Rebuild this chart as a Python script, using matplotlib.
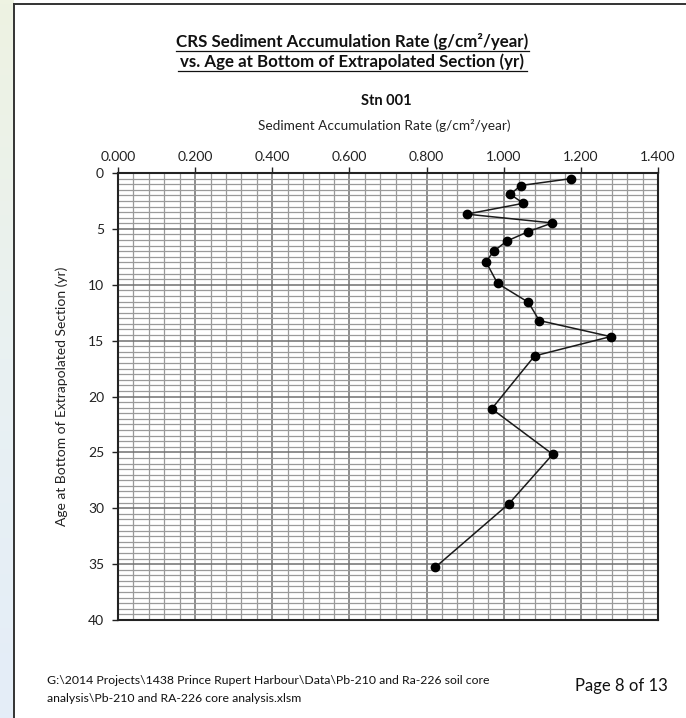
import matplotlib

matplotlib.use("Agg")
import matplotlib.pyplot as plt
import numpy as np
from matplotlib.colors import LinearSegmentedColormap
from matplotlib.lines import Line2D
from matplotlib.ticker import FormatStrFormatter, MultipleLocator

plt.rcParams["font.family"] = ["Lato", "DejaVu Sans"]

# Stn 001 CRS results
rate = [1.175, 1.044, 1.017, 1.051, 0.904, 1.126, 1.064, 1.008, 0.974, 0.954,
        0.984, 1.064, 1.092, 1.277, 1.080, 0.969, 1.127, 1.014, 0.823]
age = [0.50, 1.12, 1.91, 2.71, 3.68, 4.47, 5.24, 6.09, 7.00, 7.95,
       9.88, 11.57, 13.20, 14.64, 16.37, 21.10, 25.17, 29.58, 35.27]

x_ticks = [0.0, 0.2, 0.4, 0.6, 0.8, 1.0, 1.2, 1.4]
y_ticks = [0, 5, 10, 15, 20, 25, 30, 35, 40]

W, H = 686, 718
fig = plt.figure(figsize=(W / 100, H / 100), dpi=100)
fig.patch.set_facecolor("white")


def fx(px):
    return px / W


def fy(py):
    return 1 - py / H


# page edge: pale gradient strip on the left, dark border line
strip = fig.add_axes([0, 0, fx(14), 1])
cmap = LinearSegmentedColormap.from_list("edge", ["#eef3e2", "#e9f1f2", "#e4edf8"])
strip.imshow(np.linspace(0, 1, 200).reshape(-1, 1), aspect="auto", cmap=cmap,
             extent=[0, 1, 0, 1], origin="upper")
strip.axis("off")
top = fig.add_axes([fx(14), fy(4), 1 - fx(14), 4 / H])
top.set_facecolor("#f2f6ee")
top.axis("off")
fig.add_artist(Line2D([fx(14.5), fx(14.5)], [0, fy(4)], color="#333333", lw=1.4))
fig.add_artist(Line2D([fx(14.5), 1], [fy(4), fy(4)], color="#333333", lw=1.4))

ax = fig.add_axes([fx(118), fy(620), fx(658 - 118), (620 - 173) / H])
ax.set_xlim(x_ticks[0], x_ticks[-1])
ax.set_ylim(y_ticks[-1], y_ticks[0])
ax.set_xticks(x_ticks)
ax.set_yticks(y_ticks)
ax.xaxis.set_minor_locator(MultipleLocator(0.04))
ax.yaxis.set_minor_locator(MultipleLocator(0.5))
ax.xaxis.set_major_formatter(FormatStrFormatter("%.3f"))
ax.xaxis.tick_top()
ax.tick_params(axis="both", which="major", length=4, width=1, labelsize=10,
               colors="#222222", direction="out")
ax.tick_params(axis="x", pad=3)
ax.tick_params(axis="y", pad=6)
ax.tick_params(which="minor", length=0)
ax.grid(which="major", color="#707070", lw=1.1)
ax.grid(which="minor", color="#9a9a9a", lw=0.9)
ax.set_axisbelow(True)
for sp in ax.spines.values():
    sp.set_color("#222222")
    sp.set_linewidth(1.5)

ax.plot(rate, age, color="#1a1a1a", lw=1.1, marker="o", markersize=6,
        markerfacecolor="black", markeredgecolor="black", zorder=3)

ax.set_ylabel("Age at Bottom of Extrapolated Section (yr)", fontsize=10,
              color="#222222", labelpad=14)

# headings
fig.text(fx(352), fy(42), "CRS Sediment Accumulation Rate (g/cm²/year)",
         ha="center", va="center", fontsize=12.2, fontweight="bold", color="#111111")
fig.text(fx(352), fy(62), "vs. Age at Bottom of Extrapolated Section (yr)",
         ha="center", va="center", fontsize=12.2, fontweight="bold", color="#111111")
fig.add_artist(Line2D([fx(176), fx(529)], [fy(51), fy(51)], color="#111111", lw=0.9))
fig.add_artist(Line2D([fx(178), fx(527)], [fy(71), fy(71)], color="#111111", lw=0.9))
fig.text(fx(386), fy(101), "Stn 001", ha="center", va="center", fontsize=10.5,
         fontweight="bold", color="#111111")
fig.text(fx(384), fy(125), "Sediment Accumulation Rate (g/cm²/year)", ha="center",
         va="center", fontsize=9.8, color="#222222")

# footer
fig.text(fx(47), fy(681), "G:\\2014 Projects\\1438 Prince Rupert Harbour\\Data\\Pb-210 and Ra-226 soil core",
         ha="left", va="center", fontsize=8.8, color="#111111")
fig.text(fx(47), fy(699), "analysis\\Pb-210 and RA-226 core analysis.xlsm",
         ha="left", va="center", fontsize=8.8, color="#111111")
fig.text(fx(668), fy(686), "Page 8 of 13", ha="right", va="center",
         fontsize=12, color="#111111")

fig.savefig("out.png", dpi=100)
